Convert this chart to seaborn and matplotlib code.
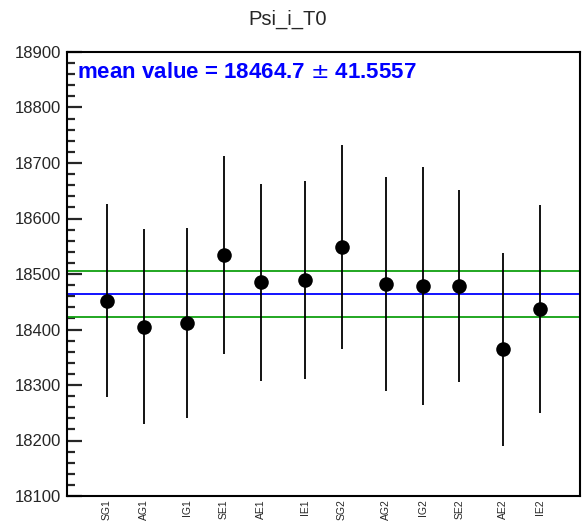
import numpy as np
import pandas as pd
import matplotlib
matplotlib.use("Agg")
import matplotlib.pyplot as plt
import seaborn as sns
from matplotlib.ticker import MultipleLocator

# values
labels = ["SG1", "AG1", "IG1", "SE1", "AE1", "IE1",
          "SG2", "AG2", "IG2", "SE2", "AE2", "IE2"]
positions = [1.01, 1.94, 3.05, 3.98, 4.92, 6.03,
             6.97, 8.08, 9.01, 9.94, 11.05, 11.99]
values = [18452, 18405, 18411, 18534, 18485, 18489,
          18548, 18482, 18478, 18479, 18364, 18437]
errors = [174, 176, 171, 178, 178, 178,
          184, 192, 214, 173, 174, 188]

mean_value = 18464.7
mean_error = 41.5557
title = "Psi_i_T0"

df = pd.DataFrame({"pos": positions, "value": values, "err": errors, "label": labels})

sns.set_style("ticks")
plt.rcParams['font.family'] = ['Liberation Sans', 'DejaVu Sans']

fig = plt.figure(figsize=(5.85, 5.31), dpi=100)
ax = fig.add_axes([67 / 585, 1 - 496 / 531, 513 / 585, 444 / 531])

# error bars, then the points on top
ax.errorbar(df["pos"], df["value"], yerr=df["err"], fmt="none",
            ecolor="black", elinewidth=1.3, capsize=0, zorder=2)
sns.scatterplot(data=df, x="pos", y="value", ax=ax, color="black",
                s=110, edgecolor="black", linewidth=0, zorder=3, legend=False)

# mean and its band
ax.axhline(mean_value, color="#0000ff", lw=1.3, zorder=1)
ax.axhline(mean_value + mean_error, color="#10a010", lw=1.3, zorder=1)
ax.axhline(mean_value - mean_error, color="#10a010", lw=1.3, zorder=1)

ax.text(0.0195, 0.9414,
        "mean value = {:.1f} $\\pm$ {:.4f}".format(mean_value, mean_error),
        transform=ax.transAxes, color="#0000ff", fontsize=16,
        fontweight="bold", ha="left", va="baseline")

ax.set_xlim(0, 13)
ax.set_ylim(18100, 18900)
ax.set_xlabel("")
ax.set_ylabel("")

ax.yaxis.set_major_locator(MultipleLocator(100))
ax.yaxis.set_minor_locator(MultipleLocator(20))
ax.tick_params(axis="y", which="major", direction="in", length=11,
               width=1.6, labelsize=12, pad=4, right=False)
ax.tick_params(axis="y", which="minor", direction="in", length=5.5,
               width=1.6, right=False)

ax.set_xticks(positions)
ax.set_xticklabels(labels, rotation=90, fontsize=7.5)
ax.tick_params(axis="x", which="both", length=0, pad=2.5)

for s in ax.spines.values():
    s.set_visible(True)
    s.set_linewidth(1.5)
    s.set_color("black")

fig.text(0.4915, 0.964, title, ha="center", va="center", fontsize=14.5)

fig.savefig("out.png", dpi=100, facecolor="white")
